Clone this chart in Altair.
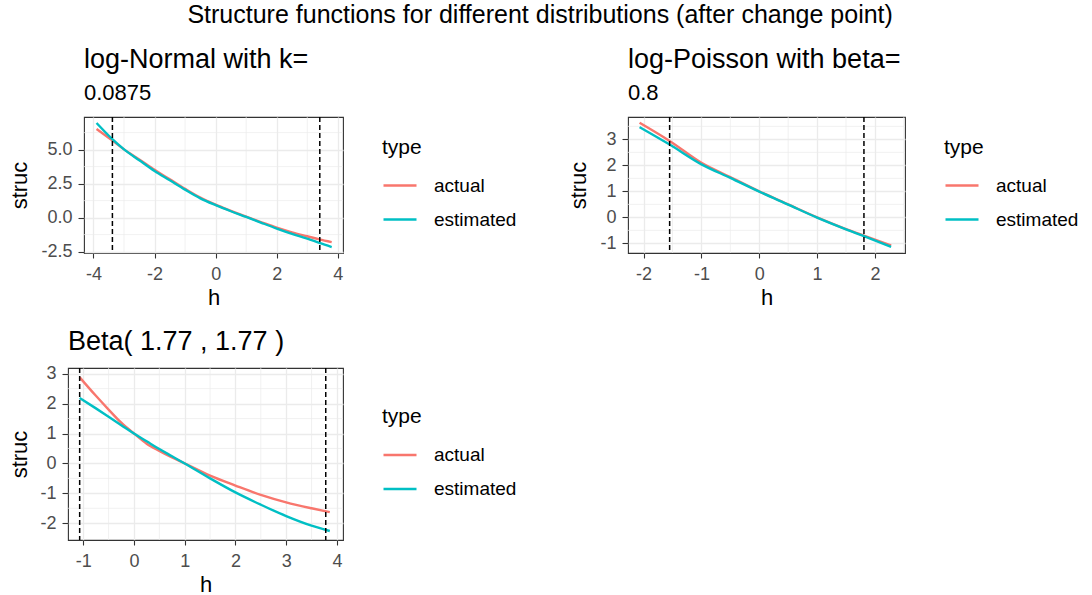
import altair as alt
import pandas as pd

FONT = "Liberation Sans"
RED, CYAN = "#F8766D", "#00BFC4"

# ---- log-Normal, k = 0.0875 ----
ln_h = [-3.9, -3.4, -3.0, -2.5, -2.0, -1.5, -1.0, -0.5, 0.0, 0.5, 1.0, 1.5, 2.0, 2.5, 3.0, 3.4, 3.8]
ln_actual = [6.52, 5.70, 5.02, 4.28, 3.52, 2.82, 2.12, 1.47, 0.95, 0.50, 0.07, -0.34, -0.74, -1.08, -1.37, -1.60, -1.80]
ln_estimated = [6.96, 5.81, 5.02, 4.22, 3.43, 2.75, 2.06, 1.42, 0.92, 0.47, 0.05, -0.38, -0.80, -1.19, -1.54, -1.86, -2.16]
ln_cuts = [-3.38, 3.41]

# ---- log-Poisson, beta = 0.8 ----
lp_h = [-2.07, -1.55, -1.0, -0.5, 0.0, 0.5, 1.0, 1.5, 1.81, 2.28]
lp_actual = [3.64, 2.94, 2.10, 1.55, 1.00, 0.50, 0.00, -0.45, -0.70, -1.08]
lp_estimated = [3.47, 2.80, 2.04, 1.52, 0.99, 0.49, -0.01, -0.46, -0.72, -1.13]
lp_cuts = [-1.55, 1.81]

# ---- Beta(1.77, 1.77) ----
bt_h = [-1.07, -0.75, -0.5, -0.25, 0.0, 0.25, 0.5, 0.75, 1.0, 1.5, 2.0, 2.5, 3.0, 3.5, 3.86]
bt_actual = [2.88, 2.26, 1.80, 1.36, 1.00, 0.66, 0.42, 0.20, 0.00, -0.41, -0.74, -1.05, -1.30, -1.50, -1.63]
bt_estimated = [2.19, 1.84, 1.56, 1.28, 1.00, 0.74, 0.48, 0.24, 0.00, -0.50, -0.97, -1.38, -1.76, -2.08, -2.26]
bt_cuts = [-1.07, 3.78]


def panel(h, actual, estimated, cuts, xdom, ydom, xmajor, xminor, ymajor, yminor,
          yfmt, w, hgt, title, subtitle, y_extent, y_titlepad, legend_y):
    n = len(h)
    df = pd.DataFrame({
        "h": h + h,
        "struc": actual + estimated,
        "type": ["actual"] * n + ["estimated"] * n,
    })
    xs = alt.Scale(domain=xdom, nice=False, zero=False)
    ys = alt.Scale(domain=ydom, nice=False, zero=False)
    x_axis = alt.Axis(values=xmajor, title="h", labelExpr="replace(datum.label, '\u2212', '-')")
    y_axis = alt.Axis(values=ymajor, title="struc", format=yfmt,
                      labelExpr="replace(datum.label, '\u2212', '-')",
                      minExtent=y_extent, maxExtent=y_extent, titlePadding=y_titlepad)
    x_enc = alt.X("h:Q", scale=xs, axis=x_axis)
    y_enc = alt.Y("struc:Q", scale=ys, axis=y_axis)

    minor_x = alt.Chart(pd.DataFrame({"h": xminor})).mark_rule(
        color="#EBEBEB", strokeWidth=0.7).encode(x=x_enc)
    minor_y = alt.Chart(pd.DataFrame({"struc": yminor})).mark_rule(
        color="#EBEBEB", strokeWidth=0.7).encode(y=y_enc)
    lines = alt.Chart(df).mark_line(strokeWidth=2.4, interpolate="monotone").encode(
        x=x_enc,
        y=y_enc,
        color=alt.Color(
            "type:N",
            scale=alt.Scale(domain=["actual", "estimated"], range=[RED, CYAN]),
            legend=alt.Legend(
                title="type", orient="none", legendX=w + 39, legendY=legend_y,
                symbolType="stroke", symbolSize=1089, symbolStrokeWidth=2.5,
                labelOffset=16, rowPadding=6, titlePadding=10,
                titleFontSize=21, titleFontWeight="normal", titleFont=FONT,
                titleColor="black", labelFontSize=19, labelFont=FONT, labelColor="black",
            ),
        ),
    )
    cut_rules = alt.Chart(pd.DataFrame({"h": cuts})).mark_rule(
        color="black", strokeWidth=1.5, strokeDash=[5, 3]).encode(x=x_enc)

    tp = dict(text=title, anchor="start", frame="group", font=FONT, fontSize=27,
              fontWeight="normal", color="black", offset=11)
    if subtitle:
        tp.update(subtitle=subtitle, subtitleFont=FONT, subtitleFontSize=22,
                  subtitleColor="black", subtitlePadding=9)
    else:
        tp.update(offset=9)
    return alt.layer(minor_x, minor_y, lines, cut_rules).properties(
        width=w, height=hgt, title=alt.TitleParams(**tp))


def spacer():
    # 1x1 blank view: opens each row so that the panels are placed by their own left extent
    return alt.Chart(pd.DataFrame({"v": [0]})).mark_point(opacity=0).properties(
        width=1, height=1, view=alt.ViewBackground(strokeOpacity=0, strokeWidth=0))


p_ln = panel(ln_h, ln_actual, ln_estimated, ln_cuts,
             [-4.31, 4.17], [-2.60, 7.40],
             [-4, -2, 0, 2, 4], [-3, -1, 1, 3],
             [-2.5, 0, 2.5, 5], [-1.25, 1.25, 3.75, 6.25],
             ".1f", 259, 136, "log-Normal with k=", "0.0875", 48, 5, 19.5)

p_lp = panel(lp_h, lp_actual, lp_estimated, lp_cuts,
             [-2.27, 2.52], [-1.37, 3.86],
             [-2, -1, 0, 1, 2], [-1.5, -0.5, 0.5, 1.5, 2.5],
             [-1, 0, 1, 2, 3], [-0.5, 0.5, 1.5, 2.5, 3.5],
             "d", 277, 136, "log-Poisson with beta=", "0.8", 30, 8, 19.5)

p_bt = panel(bt_h, bt_actual, bt_estimated, bt_cuts,
             [-1.30, 4.12], [-2.56, 3.19],
             [-1, 0, 1, 2, 3, 4], [-0.5, 0.5, 1.5, 2.5, 3.5],
             [-2, -1, 0, 1, 2, 3], [-1.5, -0.5, 0.5, 1.5, 2.5],
             "d", 275, 172, "Beta( 1.77 , 1.77 )", None, 30, 7, 38)

pair = alt.hconcat(p_ln, p_lp, spacing=48).resolve_scale(color="independent")
top_row = alt.hconcat(spacer(), pair, spacing=0).resolve_scale(color="independent")
bottom_row = alt.hconcat(spacer(), p_bt, spacing=0).resolve_scale(color="independent")

chart = alt.vconcat(
    top_row, bottom_row, spacing=18,
    title=alt.TitleParams(
        text="Structure functions for different distributions (after change point)",
        anchor="middle", font=FONT, fontSize=25, fontWeight="normal", color="black", offset=18),
).resolve_scale(color="independent").properties(
    padding={"left": 0, "top": 2, "right": 5, "bottom": 5}
).configure_view(
    stroke="#333333", strokeWidth=1.1
).configure_axis(
    grid=True, gridColor="#EBEBEB", gridWidth=1.3,
    domain=False, tickColor="#333333", tickWidth=1.1,
    labelColor="#4D4D4D", labelFont=FONT, labelFontSize=18,
    titleColor="black", titleFont=FONT, titleFontSize=22, titleFontWeight="normal",
).configure_axisX(
    tickSize=5, labelPadding=7, titlePadding=4,
).configure_axisY(
    tickSize=6, labelPadding=6,
)

chart.save("out.html", embed_options={"renderer": "svg", "actions": False})
